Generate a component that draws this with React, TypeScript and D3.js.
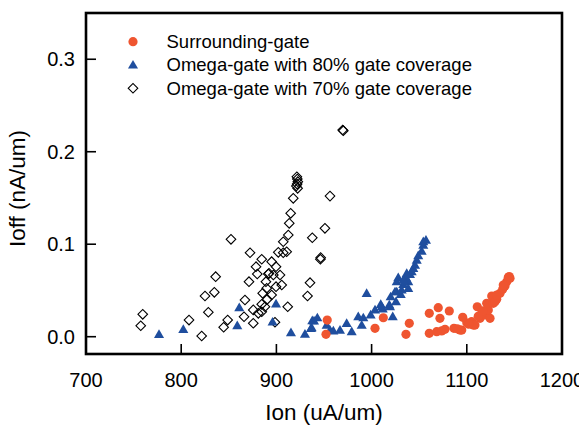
import React from "react";
import * as d3 from "d3";

// Ion (uA/um), Ioff (nA/um)
const surroundX = [953.4, 952.1, 1012.3, 1003.6, 1039.6, 1036.1, 1060.6, 1060.6, 1070, 1071.8, 1081.6, 1068.4, 1073.6, 1077.1, 1086.5, 1094.7, 1092.9, 1095.7, 1105.1, 1106.8, 1111, 1113.9, 1119.1, 1124.4, 1122.6, 1120.9, 1126.2, 1127.8, 1131.4, 1134.9, 1137.7, 1140.1, 1141.9, 1143.6, 1145.4, 1115.6, 1117, 1129.6, 1108.6, 1100, 1131.4, 1138.3, 1144.6, 1090, 1102, 1112];
const surroundY = [0.018, 0.0026, 0.0205, 0.0091, 0.0145, 0.0026, 0.0253, 0.0037, 0.0314, 0.0199, 0.0278, 0.0054, 0.0062, 0.008, 0.0091, 0.0072, 0.0072, 0.021, 0.0162, 0.0126, 0.0324, 0.0199, 0.0235, 0.0199, 0.0289, 0.0361, 0.044, 0.0361, 0.0404, 0.0469, 0.0512, 0.0548, 0.0595, 0.0642, 0.0631, 0.0253, 0.028, 0.0378, 0.0126, 0.015, 0.0451, 0.0559, 0.065, 0.0085, 0.0135, 0.022];

const omega80X = [776.7, 802.2, 861, 858.9, 899.6, 896, 915.3, 930, 937.7, 936.3, 937, 939.5, 943, 952.8, 956.3, 959.8, 966.8, 973.8, 979.1, 986, 989.6, 991.3, 994.8, 999, 1003.6, 1009.6, 1011.7, 1010.6, 1018.6, 1020, 1022.2, 1025.6, 1028, 1026.4, 1030.6, 1033.3, 1036.1, 1038.5, 1040.3, 1043.8, 1047.4, 1049, 1052.6, 1054.3, 1057.1, 1054.3, 1045.6, 1042.1, 1036.9, 1024.6, 1019.3, 1038.5, 1031.6, 1026.4, 1033.3];
const omega80Y = [0.0026, 0.008, 0.0314, 0.0119, 0.0354, 0.0159, 0.0043, 0.0029, 0.0173, 0.0091, 0.0097, 0.017, 0.0205, 0.0126, 0.0072, 0.0062, 0.0072, 0.0145, 0.0054, 0.0216, 0.0126, 0.0205, 0.0469, 0.0235, 0.0289, 0.035, 0.03, 0.0324, 0.0343, 0.0432, 0.0216, 0.0378, 0.0638, 0.0486, 0.0458, 0.0566, 0.0638, 0.0595, 0.0675, 0.0739, 0.0829, 0.0876, 0.0926, 0.0991, 0.1045, 0.1027, 0.0775, 0.0703, 0.0685, 0.0486, 0.0324, 0.0523, 0.0505, 0.0595, 0.0613];

const omega70X = [757.5, 759.6, 808.2, 821.5, 828.5, 825, 834.8, 836.2, 852.3, 848.8, 844.6, 867, 872.3, 866, 875.7, 871.2, 878.6, 879.9, 884.6, 895, 899.6, 891.5, 896.8, 903.8, 889, 889.8, 905.6, 899.6, 885.6, 895, 890.4, 888, 884.6, 911.9, 898.5, 907.2, 910.8, 907.2, 912.5, 913.5, 915, 917.7, 921.5, 922, 922.5, 921.8, 921, 922.3, 902, 892.2, 881, 875.7, 884.6, 937.7, 935.3, 932.7, 969.6, 970.3, 956.3, 951, 946.2, 946.5];
const omega70Y = [0.0119, 0.0242, 0.018, 0.0008, 0.0264, 0.044, 0.048, 0.0649, 0.1053, 0.018, 0.0102, 0.0397, 0.0908, 0.0216, 0.0145, 0.0595, 0.0757, 0.0678, 0.0837, 0.0811, 0.0757, 0.0678, 0.0667, 0.0667, 0.0595, 0.0523, 0.0559, 0.0541, 0.0469, 0.0451, 0.0404, 0.0324, 0.027, 0.0324, 0.0156, 0.0908, 0.0919, 0.1027, 0.11, 0.1226, 0.1334, 0.1496, 0.173, 0.1705, 0.1676, 0.165, 0.163, 0.1604, 0.0912, 0.0685, 0.0253, 0.029, 0.035, 0.107, 0.0584, 0.044, 0.2235, 0.2228, 0.152, 0.1172, 0.0837, 0.0855];

const xTicks = [700, 800, 900, 1000, 1100, 1200];
const yTicks = [0, 0.1, 0.2, 0.3];
const yTickLabels = ["0.0", "0.1", "0.2", "0.3"];
const legendLabels = ["Surrounding-gate", "Omega-gate with 80% gate coverage", "Omega-gate with 70% gate coverage"];

const W = 587;
const H = 427;
const frame = { left: 86, right: 562, top: 13, bottom: 354 };
const font = "'Liberation Sans', Arial, Helvetica, sans-serif";
const orange = "#EF5530";
const blue = "#1F4E9E";

const x = d3.scaleLinear().domain([700, 1200]).range([frame.left, frame.right]);
const y = d3.scaleLinear().domain([-0.0187, 0.35]).range([frame.bottom, frame.top]);

const trianglePath = d3.symbol().type(d3.symbolTriangle).size(44)() as string;
const diamondPath = d3.symbol().type(d3.symbolSquare).size(46)() as string;

const Circle = ({ cx, cy }: { cx: number; cy: number }) => (
  <circle cx={cx} cy={cy} r={4.6} fill={orange} />
);
const Triangle = ({ cx, cy }: { cx: number; cy: number }) => (
  <path d={trianglePath} transform={`translate(${cx},${cy + 0.7})`} fill={blue} />
);
const Diamond = ({ cx, cy }: { cx: number; cy: number }) => (
  <path
    d={diamondPath}
    transform={`translate(${cx},${cy}) rotate(45)`}
    fill="none"
    stroke="#000"
    strokeWidth={1.1}
  />
);

export default function App() {
  const legendY = [41.7, 65, 88.3];
  return (
    <svg width={W} height={H} style={{ display: "block", margin: "-8px 0 0 -8px", fontFamily: font }}>
      <rect width={W} height={H} fill="#fff" />

      {/* ticks (inward) */}
      {yTicks.map((t) => (
        <line key={"yt" + t} x1={frame.left} x2={frame.left + 10} y1={y(t)} y2={y(t)} stroke="#000" strokeWidth={1.6} />
      ))}
      {xTicks.map((t) => (
        <line key={"xt" + t} x1={x(t)} x2={x(t)} y1={frame.bottom} y2={frame.bottom - 10} stroke="#000" strokeWidth={1.6} />
      ))}

      {omega70X.map((v, i) => (
        <Diamond key={"d" + i} cx={x(v)} cy={y(omega70Y[i])} />
      ))}
      {omega80X.map((v, i) => (
        <Triangle key={"t" + i} cx={x(v)} cy={y(omega80Y[i])} />
      ))}
      {surroundX.map((v, i) => (
        <Circle key={"c" + i} cx={x(v)} cy={y(surroundY[i])} />
      ))}

      <rect
        x={frame.left}
        y={frame.top}
        width={frame.right - frame.left}
        height={frame.bottom - frame.top}
        fill="none"
        stroke="#000"
        strokeWidth={2.6}
      />

      {yTicks.map((t, i) => (
        <text key={"yl" + t} x={frame.left - 11} y={y(t)} dy="0.36em" textAnchor="end" fontSize={20}>
          {yTickLabels[i]}
        </text>
      ))}
      {xTicks.map((t) => (
        <text key={"xl" + t} x={x(t)} y={386.5} textAnchor="middle" fontSize={20}>
          {t}
        </text>
      ))}

      <text x={(frame.left + frame.right) / 2} y={420} textAnchor="middle" fontSize={22.5}>
        Ion (uA/um)
      </text>
      <text transform={`translate(25,${(frame.top + frame.bottom) / 2 + 5}) rotate(-90)`} textAnchor="middle" fontSize={22.5}>
        Ioff (nA/um)
      </text>

      {/* legend */}
      <Circle cx={133} cy={legendY[0]} />
      <Triangle cx={133} cy={legendY[1]} />
      <Diamond cx={133} cy={legendY[2]} />
      {legendLabels.map((l, i) => (
        <text key={l} x={166.5} y={legendY[i]} dy="0.35em" fontSize={18.5}>
          {l}
        </text>
      ))}
    </svg>
  );
}
